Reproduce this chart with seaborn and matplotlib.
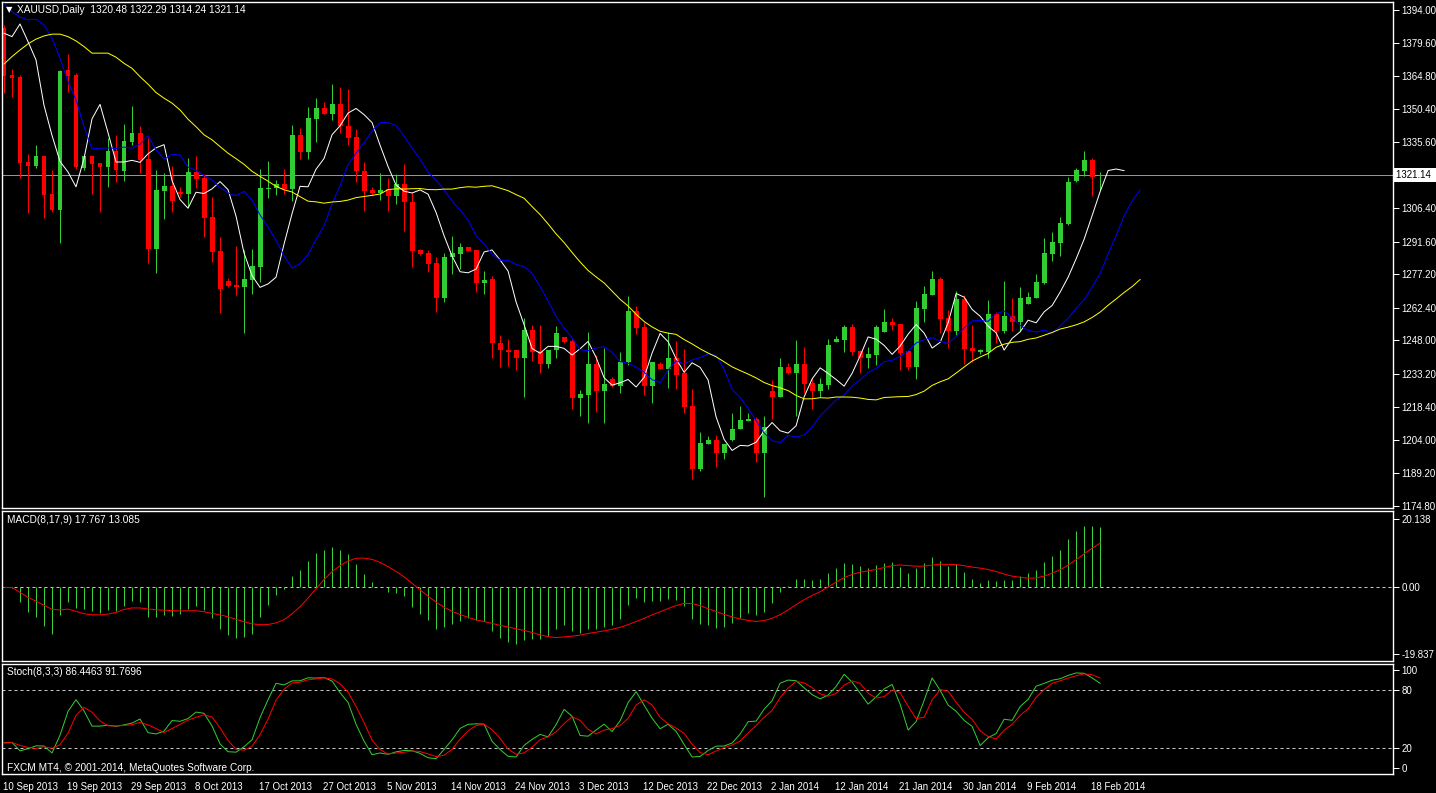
import numpy as np
import pandas as pd
import seaborn as sns
import matplotlib
matplotlib.use('Agg')
import matplotlib.pyplot as plt
import matplotlib.transforms as mtransforms

# XAUUSD daily candles (10 Sep 2013 .. 20 Feb 2014)
opens = [1386.2, 1365.1, 1364.4, 1326.8, 1325.2, 1329.5, 1312.7, 1305.7, 1367.5, 1365.3,
         1324.3, 1329.5, 1326.4, 1324.8, 1331.7, 1323.0, 1335.8, 1339.6, 1328.1, 1288.5,
         1314.1, 1316.2, 1313.6, 1312.7, 1322.4, 1319.9, 1302.5, 1287.5, 1274.2, 1272.5,
         1271.7, 1274.7, 1280.4, 1315.0, 1315.1, 1317.1, 1314.9, 1338.8, 1331.4, 1345.8,
         1350.7, 1348.2, 1352.5, 1342.7, 1338.0, 1323.0, 1314.5, 1313.0, 1314.8, 1311.8,
         1317.1, 1309.2, 1287.9, 1286.8, 1282.3, 1266.7, 1284.6, 1286.3, 1289.1, 1287.9,
         1273.5, 1275.1, 1246.8, 1243.8, 1243.5, 1240.4, 1252.6, 1243.3, 1237.7, 1243.5,
         1249.5, 1247.7, 1222.7, 1224.0, 1237.6, 1225.8, 1230.8, 1227.6, 1238.2, 1261.0,
         1253.9, 1227.6, 1237.6, 1235.5, 1240.2, 1233.6, 1219.0, 1191.3, 1202.4, 1204.0,
         1198.0, 1204.0, 1208.6, 1212.5, 1213.3, 1198.0, 1225.6, 1223.0, 1236.3, 1233.6,
         1237.6, 1229.2, 1225.6, 1228.4, 1247.3, 1248.2, 1253.9, 1243.3, 1240.2, 1241.6,
         1251.8, 1256.2, 1255.4, 1243.1, 1236.3, 1261.9, 1268.1, 1275.2, 1258.0, 1252.2,
         1266.3, 1244.7, 1243.0, 1242.9, 1259.7, 1252.2, 1258.8, 1256.2, 1264.1, 1266.8,
         1273.4, 1286.2, 1291.1, 1299.5, 1318.5, 1322.9, 1327.8, 1320.48]
highs = [1387.5, 1367.9, 1365.3, 1330.4, 1334.3, 1330.0, 1323.3, 1367.5, 1374.5, 1366.0,
         1329.8, 1329.8, 1326.5, 1337.3, 1338.7, 1343.6, 1351.6, 1342.7, 1337.3, 1323.3,
         1322.1, 1325.2, 1315.6, 1328.6, 1329.5, 1321.4, 1311.3, 1293.8, 1275.7, 1289.7,
         1288.0, 1288.4, 1323.8, 1327.4, 1318.9, 1323.7, 1343.2, 1341.7, 1351.3, 1355.1,
         1353.4, 1361.3, 1360.1, 1359.1, 1341.3, 1326.7, 1315.6, 1321.8, 1319.9, 1321.5,
         1325.9, 1313.6, 1288.2, 1287.9, 1284.9, 1286.8, 1294.3, 1291.2, 1289.3, 1288.0,
         1278.7, 1276.2, 1250.4, 1248.6, 1243.6, 1257.7, 1254.8, 1254.8, 1243.8, 1254.4,
         1249.5, 1248.6, 1226.1, 1251.7, 1241.5, 1244.8, 1231.7, 1242.9, 1267.6, 1263.2,
         1256.1, 1238.5, 1238.2, 1251.5, 1247.6, 1244.2, 1226.5, 1207.5, 1205.5, 1206.2,
         1202.0, 1215.8, 1219.0, 1215.8, 1214.3, 1214.6, 1230.5, 1240.2, 1238.0, 1248.2,
         1245.1, 1231.4, 1231.4, 1248.6, 1250.0, 1254.8, 1255.2, 1243.8, 1245.1, 1254.8,
         1261.9, 1258.0, 1255.4, 1243.1, 1265.3, 1272.1, 1278.7, 1276.1, 1261.5, 1269.9,
         1268.1, 1254.9, 1244.1, 1265.9, 1260.6, 1274.3, 1266.8, 1271.6, 1269.4, 1277.4,
         1293.3, 1295.9, 1302.6, 1320.2, 1324.2, 1331.7, 1328.6, 1322.29]
lows = [1357.2, 1355.7, 1319.9, 1304.1, 1324.3, 1302.2, 1304.6, 1291.2, 1357.9, 1323.7,
        1323.2, 1312.8, 1304.9, 1315.9, 1318.1, 1318.5, 1334.5, 1322.1, 1282.0, 1277.6,
        1301.5, 1304.9, 1311.5, 1307.1, 1315.2, 1293.8, 1282.8, 1260.2, 1271.7, 1268.1,
        1251.3, 1268.5, 1273.8, 1311.1, 1312.0, 1312.8, 1309.6, 1328.2, 1328.0, 1335.8,
        1347.8, 1345.4, 1339.5, 1334.1, 1318.1, 1305.3, 1312.3, 1310.1, 1305.3, 1308.3,
        1296.1, 1280.6, 1285.7, 1278.4, 1260.7, 1265.1, 1277.5, 1279.6, 1287.5, 1269.5,
        1268.5, 1240.4, 1236.2, 1236.8, 1235.1, 1223.1, 1239.0, 1233.7, 1235.9, 1240.4,
        1247.0, 1217.5, 1214.7, 1211.3, 1216.5, 1211.3, 1227.5, 1224.9, 1237.1, 1250.7,
        1223.7, 1220.2, 1235.5, 1227.1, 1226.7, 1215.8, 1186.8, 1190.3, 1202.4, 1192.2,
        1195.6, 1203.7, 1208.6, 1212.5, 1194.4, 1178.7, 1213.1, 1223.0, 1233.2, 1214.6,
        1224.6, 1217.8, 1223.1, 1226.7, 1247.3, 1243.0, 1241.6, 1233.6, 1235.8, 1237.1,
        1251.7, 1252.6, 1235.0, 1235.0, 1231.1, 1256.2, 1268.1, 1251.3, 1244.8, 1250.4,
        1237.6, 1238.5, 1241.9, 1240.3, 1246.9, 1251.3, 1252.2, 1252.2, 1264.1, 1266.8,
        1273.0, 1283.1, 1285.3, 1299.0, 1318.0, 1320.7, 1311.9, 1314.24]
closes = [1365.0, 1364.1, 1326.4, 1325.2, 1329.5, 1312.4, 1305.6, 1367.0, 1365.0, 1324.8,
          1329.5, 1326.1, 1324.8, 1331.7, 1323.4, 1336.1, 1339.6, 1327.7, 1288.5, 1314.4,
          1316.2, 1309.7, 1312.7, 1322.4, 1319.3, 1302.1, 1287.2, 1270.5, 1272.0, 1271.7,
          1275.1, 1280.9, 1315.5, 1315.5, 1317.1, 1314.9, 1338.8, 1331.4, 1346.3, 1350.7,
          1348.2, 1352.5, 1342.5, 1337.6, 1322.6, 1314.2, 1313.0, 1314.5, 1311.8, 1317.1,
          1308.9, 1287.5, 1286.3, 1281.9, 1266.7, 1284.9, 1286.8, 1289.4, 1287.6, 1273.5,
          1274.7, 1246.6, 1243.5, 1243.0, 1240.4, 1252.6, 1243.0, 1237.7, 1243.8, 1251.3,
          1247.4, 1222.7, 1224.3, 1237.6, 1225.8, 1228.7, 1227.6, 1238.5, 1261.0, 1253.6,
          1227.6, 1238.5, 1235.5, 1240.2, 1232.5, 1218.7, 1191.3, 1202.7, 1204.0, 1198.0,
          1202.0, 1208.9, 1212.8, 1213.3, 1198.0, 1209.7, 1223.0, 1236.3, 1233.6, 1237.6,
          1228.9, 1225.6, 1228.7, 1246.0, 1248.6, 1253.9, 1243.0, 1240.4, 1242.0, 1253.9,
          1256.2, 1254.8, 1242.6, 1236.3, 1262.4, 1268.5, 1275.2, 1257.5, 1252.2, 1266.3,
          1244.2, 1243.4, 1243.4, 1259.7, 1252.2, 1258.8, 1256.2, 1266.8, 1267.2, 1273.9,
          1286.7, 1291.5, 1299.9, 1318.0, 1323.3, 1327.8, 1320.0, 1321.14]

# start of each moving average line (history before the first bar)
white_lead = [1383.7, 1382.2, 1387.8, 1380.0, 1371.9]
blue_lead = [1397.0, 1393.3, 1390.8, 1389.6, 1389.9, 1387.4, 1381.5, 1372.7, 1362.3,
             1354.2, 1342.4]
yellow_lead = [1370.1, 1373.4, 1376.3, 1379.0, 1381.1, 1382.5, 1383.3, 1383.3, 1382.2,
               1380.3, 1377.8, 1374.9, 1374.9, 1374.9, 1373.1, 1370.4, 1368.2, 1364.5,
               1361.2, 1357.5, 1355.0, 1352.8, 1349.8, 1345.7, 1342.4, 1338.8, 1336.6,
               1333.6, 1330.7]

# one date label every 8 bars
date_labels = ['10 Sep 2013', '19 Sep 2013', '29 Sep 2013', '8 Oct 2013', '17 Oct 2013',
               '27 Oct 2013', '5 Nov 2013', '14 Nov 2013', '24 Nov 2013', '3 Dec 2013',
               '12 Dec 2013', '22 Dec 2013', '2 Jan 2014', '12 Jan 2014', '21 Jan 2014',
               '30 Jan 2014', '9 Feb 2014', '18 Feb 2014']
price_ticks = [1394.00, 1379.60, 1364.80, 1350.40, 1335.60, 1306.40, 1291.60, 1277.20,
               1262.40, 1248.00, 1233.20, 1218.40, 1204.00, 1189.20, 1174.80]
macd_ticks = [20.138, 0.00, -19.837]
macd_tick_labels = ['20.138', '0.00', '-19.837']
stoch_ticks = [100, 80, 20, 0]
stoch_levels = [80, 20]

macd_label = 'MACD(8,17,9) 17.767 13.085'
stoch_label = 'Stoch(8,3,3) 86.4463 91.7696'
footer = 'FXCM MT4, \u00a9 2001-2014, MetaQuotes Software Corp.'

df = pd.DataFrame({'open': opens, 'high': highs, 'low': lows, 'close': closes})
df['bar'] = np.arange(len(df))
n = len(df)

# moving averages, shifted forward like on the MT4 chart
def shifted_ma(lead, window, shift):
    ma = df.close.rolling(window).mean().dropna().values
    y = np.concatenate([lead, ma])
    return np.arange(len(y)), y

wx, wy = shifted_ma(white_lead, 3, 3)
bx, by = shifted_ma(blue_lead, 7, 5)
yx, yy = shifted_ma(yellow_lead, 25, 5)

# MACD(8,17,9)
ema_fast = df.close.ewm(span=8, adjust=False).mean()
ema_slow = df.close.ewm(span=17, adjust=False).mean()
macd = ema_fast - ema_slow
macd_signal = macd.rolling(9, min_periods=1).mean()

# Stoch(8,3,3)
ll = df.low.rolling(8, min_periods=1).min()
hh = df.high.rolling(8, min_periods=1).max()
num = (df.close - ll).rolling(3, min_periods=1).sum()
den = (hh - ll).rolling(3, min_periods=1).sum()
stoch_main = 100 * num / den
stoch_sig = stoch_main.rolling(3, min_periods=1).mean()

sns.set_style('dark')
plt.rcParams['font.family'] = ['Liberation Sans', 'DejaVu Sans']
plt.rcParams['axes.facecolor'] = 'black'
plt.rcParams['figure.facecolor'] = 'black'

W, H = 1436, 793
fig = plt.figure(figsize=(W / 100, H / 100), dpi=100)

def panel(top, bottom):
    return fig.add_axes([2 / W, 1 - bottom / H, 1391 / W, (bottom - top) / H])

ax = panel(2, 508)
ax2 = panel(511, 661)
ax3 = panel(664, 774)

xmin, xmax = -0.25, 173.6
px = 0.72  # one pixel in points

for a in (ax, ax2, ax3):
    a.set_facecolor('black')
    a.set_xlim(xmin, xmax)
    a.grid(False)
    for s in a.spines.values():
        s.set_color('white')
        s.set_linewidth(1.0)
    a.yaxis.tick_right()
    a.tick_params(axis='y', direction='out', length=4, width=px, colors='white',
                  labelsize=7, pad=2)

# candles
up = df.close >= df.open
col = np.where(up, '#32cd32', '#ff0000')
ax.vlines(df.bar, df.low, df.high, colors=col, linewidth=px, zorder=2)
body_lo = np.minimum(df.open, df.close)
body_h = np.maximum(np.abs(df.close - df.open), 0.5)
ax.bar(df.bar, body_h, bottom=body_lo, width=0.62, color=col, linewidth=0, zorder=2)

ax.axhline(closes[-1], color='#8797a6', linewidth=px, zorder=1)

sns.lineplot(x=wx, y=wy, ax=ax, color='white', linewidth=px, zorder=3)
sns.lineplot(x=bx, y=by, ax=ax, color='#0000ff', linewidth=px, zorder=3)
sns.lineplot(x=yx, y=yy, ax=ax, color='#ffff00', linewidth=px, zorder=3)

ax.set_ylim(1173.9, 1397.5)
ax.set_yticks(price_ticks)
ax.set_yticklabels([f'{p:.2f}' for p in price_ticks])
ax.set_xticks([])
ax.set_xlabel('')
ax.set_ylabel('')
ax.text(1.0025, closes[-1], f'{closes[-1]:.2f} ',
        transform=mtransforms.blended_transform_factory(ax.transAxes, ax.transData),
        color='black', fontsize=7, va='center', ha='left',
        bbox=dict(facecolor='white', edgecolor='none', pad=1.5), clip_on=False)

# MACD panel
ax2.vlines(df.bar, 0, macd, colors='#3ccf3c', linewidth=px, zorder=2)
sns.lineplot(x=df.bar, y=macd_signal, ax=ax2, color='red', linewidth=px, zorder=3)
ax2.axhline(0, color='#c8c8c8', linewidth=px, linestyle=(0, (3, 3)), zorder=1)
ax2.set_ylim(-21.8, 22.6)
ax2.set_yticks(macd_ticks)
ax2.set_yticklabels(macd_tick_labels)
ax2.set_xticks([])
ax2.set_xlabel('')
ax2.set_ylabel('')

# Stochastic panel
sns.lineplot(x=df.bar, y=stoch_main, ax=ax3, color='#32cd32', linewidth=px, zorder=3)
sns.lineplot(x=df.bar, y=stoch_sig, ax=ax3, color='red', linewidth=px, zorder=3)
for lvl in stoch_levels:
    ax3.axhline(lvl, color='#c8c8c8', linewidth=px, linestyle=(0, (3, 3)), zorder=1)
ax3.set_ylim(-6.1, 106.1)
ax3.set_yticks(stoch_ticks)
ax3.set_yticklabels([str(v) for v in stoch_ticks])
ax3.set_xticks(np.arange(len(date_labels)) * 8 - 0.15)
ax3.set_xticklabels(date_labels)
ax3.tick_params(axis='x', direction='out', length=4, width=px, colors='white',
                labelsize=7, pad=1.5)
for lab in ax3.get_xticklabels():
    lab.set_ha('left')
ax3.set_xlabel('')
ax3.set_ylabel('')

# chart captions
header = f'XAUUSD,Daily  {opens[-1]:.2f} {highs[-1]:.2f} {lows[-1]:.2f} {closes[-1]:.2f}'
fig.text(6 / W, 1 - 10 / H, '\u25bc', color='white', fontsize=6, va='center', ha='left',
         family=['DejaVu Sans'])
fig.text(17 / W, 1 - 10 / H, header, color='white', fontsize=7.3, va='center', ha='left')
fig.text(7 / W, 1 - 520 / H, macd_label, color='white', fontsize=7.3, va='center', ha='left')
fig.text(7 / W, 1 - 672 / H, stoch_label, color='white', fontsize=7.3, va='center', ha='left')
fig.text(7 / W, 1 - 768 / H, footer, color='white', fontsize=7.3, va='center', ha='left')

fig.savefig('out.png', dpi=100, facecolor='black')
